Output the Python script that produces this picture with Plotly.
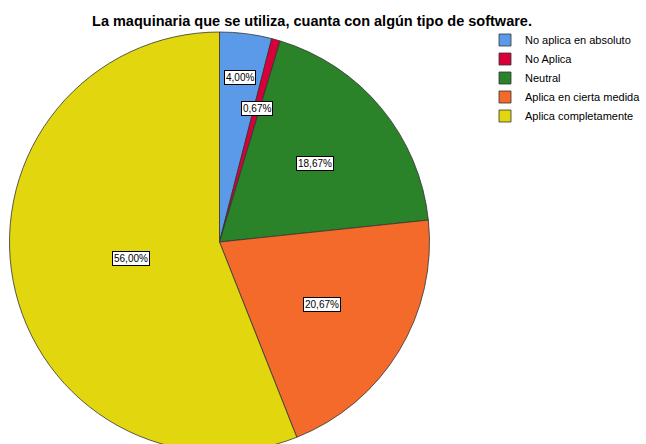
import math
import plotly.graph_objects as go

# ---- data ----
categories = ["No aplica en absoluto", "No Aplica", "Neutral",
              "Aplica en cierta medida", "Aplica completamente"]
counts = [6, 1, 28, 31, 84]
colors = ["#5B9AE8", "#D8003A", "#2A8229", "#F36A2B", "#E2D60F"]
title_text = "La maquinaria que se utiliza, cuanta con algún tipo de software."

# ---- styling ----
W, H = 646, 452
M_T, M_B, M_L, M_R = 32, 0, 0, 0
label_radius_frac = [0.79, 0.66, 0.59, 0.57, 0.43]
FONT = "Arial, Liberation Sans, sans-serif"

plot_w = W - M_L - M_R
plot_h = H - M_T - M_B
R = min(plot_w, plot_h) / 2.0
cx_px = 219.5
dom_x = [(cx_px - R) / plot_w, (cx_px + R) / plot_w]
cy_px = M_T + plot_h / 2.0

total = sum(counts)
pcts = [c / total * 100 for c in counts]

fig = go.Figure(go.Pie(
    labels=categories, values=counts, sort=False, direction="clockwise",
    rotation=0, textinfo="none", hoverinfo="label+percent",
    marker=dict(colors=colors, line=dict(color="#333333", width=0.8)),
    domain=dict(x=dom_x, y=[0, 1]),
))

# percentage labels placed at each slice's mid angle
cum = 0.0
annotations = []
for p, f in zip(pcts, label_radius_frac):
    mid = (cum + p / 2) / 100 * 2 * math.pi
    cum += p
    px = cx_px + f * R * math.sin(mid)
    py = cy_px - f * R * math.cos(mid)
    annotations.append(dict(
        x=(px - M_L) / plot_w, y=(H - M_B - py) / plot_h,
        xref="paper", yref="paper", showarrow=False,
        xanchor="center", yanchor="middle",
        text=f"{p:.2f}".replace(".", ",") + "%",
        font=dict(family=FONT, size=10, color="#000"),
        bgcolor="white", bordercolor="#000", borderwidth=1, borderpad=1,
    ))

fig.update_layout(
    width=W, height=H,
    margin=dict(t=M_T, b=M_B, l=M_L, r=M_R),
    paper_bgcolor="white", plot_bgcolor="white",
    title=dict(text=f"<b>{title_text}</b>", x=312 / W, xanchor="center",
               y=1 - 21 / H, yanchor="middle", yref="container",
               font=dict(family=FONT, size=14.5, color="#000")),
    legend=dict(x=1.0, xanchor="right", y=1 + 6.5 / plot_h, yanchor="top",
                font=dict(family=FONT, size=11, color="#000"),
                bgcolor="rgba(0,0,0,0)", itemwidth=30,
                traceorder="normal"),
    annotations=annotations,
    showlegend=True,
)

fig.write_html(
    "out.html",
    config={"displayModeBar": False},
    post_script="document.body.style.margin='0px';"
                "document.body.style.overflow='hidden';"
                "document.documentElement.style.overflow='hidden';",
)
